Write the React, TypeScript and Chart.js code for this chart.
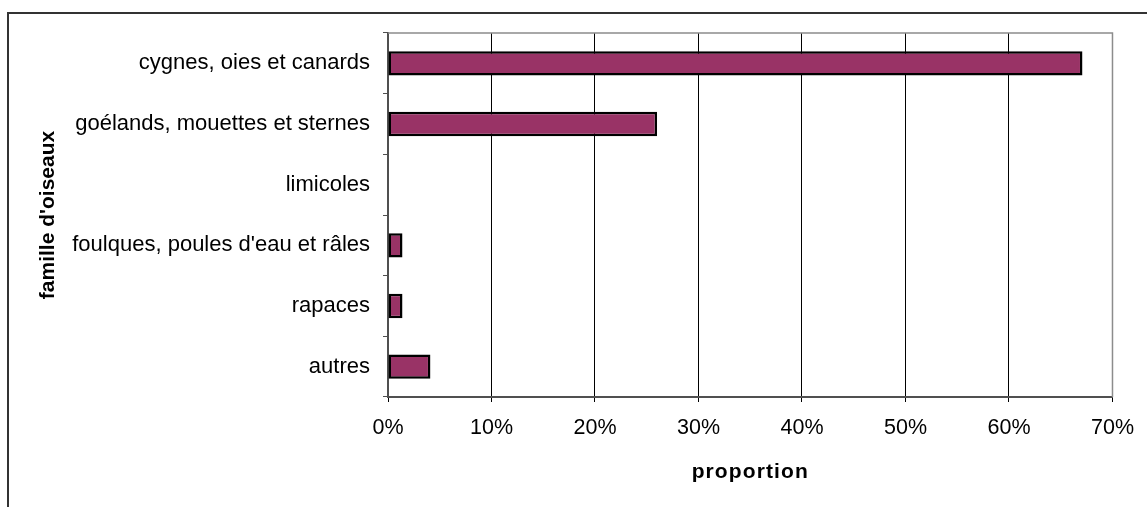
import React, { useEffect, useRef } from "react";
import { Chart, registerables } from "chart.js";

Chart.register(...registerables);

const categories = [
  "cygnes, oies et canards",
  "goélands, mouettes et sternes",
  "limicoles",
  "foulques, poules d'eau et râles",
  "rapaces",
  "autres",
];
const proportions = [67.1, 26.0, 0, 1.4, 1.4, 4.1];
const xTickMin = 0;
const xTickMax = 70;
const xTickStep = 10;
const xTitle = "proportion";
const yTitle = "famille d'oiseaux";

const W = 1147;
const H = 507;
const FONT = "'Liberation Sans', Arial, sans-serif";

const framePlugin = {
  id: "frame",
  beforeDraw(chart: any) {
    const ctx = chart.ctx;
    ctx.save();
    ctx.fillStyle = "#ffffff";
    ctx.fillRect(0, 0, chart.width, chart.height);
    ctx.restore();
    const xs = chart.scales.x;
    if (xs && !xs.__spaced) {
      const orig = xs.drawTitle;
      xs.drawTitle = function (...args: any[]) {
        const c = this.ctx;
        const prev = c.letterSpacing;
        c.letterSpacing = "1.1px";
        orig.apply(this, args);
        c.letterSpacing = prev || "0px";
      };
      xs.__spaced = true;
    }
  },
  afterDraw(chart: any) {
    const ctx = chart.ctx;
    const a = chart.chartArea;
    ctx.save();
    ctx.strokeStyle = "#8c8c8c";
    ctx.lineWidth = 1.5;
    ctx.beginPath();
    ctx.moveTo(a.left, a.top);
    ctx.lineTo(a.right, a.top);
    ctx.lineTo(a.right, a.bottom);
    ctx.stroke();
    ctx.fillStyle = "#333333";
    ctx.fillRect(7, 12, chart.width - 7, 2);
    ctx.fillRect(7, 12, 2, chart.height - 12);
    ctx.restore();
  },
};

export default function App() {
  const ref = useRef<HTMLCanvasElement | null>(null);

  useEffect(() => {
    if (!ref.current) return;
    const chart = new Chart(ref.current, {
      type: "bar",
      data: {
        labels: categories,
        datasets: [
          {
            data: proportions,
            backgroundColor: "#993366",
            borderColor: "#000000",
            borderWidth: 2.5,
            borderSkipped: false,
            inflateAmount: 0,
            categoryPercentage: 1,
            barPercentage: 0.4,
          },
        ],
      },
      options: {
        indexAxis: "y",
        responsive: false,
        animation: false,
        events: [],
        layout: { padding: { top: 33, right: 32, left: 0, bottom: 0 } },
        plugins: {
          legend: { display: false },
          tooltip: { enabled: false },
          title: { display: false },
        },
        scales: {
          x: {
            type: "linear",
            min: xTickMin,
            max: xTickMax,
            afterFit: (scale: any) => {
              scale.height = 110;
            },
            ticks: {
              stepSize: xTickStep,
              color: "#000000",
              padding: 13,
              font: { family: FONT, size: 21.5 },
              callback: (v: any) => v + "%",
              maxRotation: 0,
            },
            grid: {
              color: "#000000",
              lineWidth: 1,
              tickLength: 5,
              tickColor: "#000000",
            },
            border: { display: true, color: "#505050", width: 2 },
            title: {
              display: true,
              text: xTitle,
              color: "#000000",
              font: { family: FONT, size: 21, weight: "bold" },
              padding: { top: 0, bottom: 22.4 },
            },
          },
          y: {
            type: "category",
            afterFit: (scale: any) => {
              scale.width = 388;
            },
            ticks: {
              color: "#000000",
              padding: 13,
              font: { family: FONT, size: 22 },
            },
            grid: {
              display: true,
              drawOnChartArea: false,
              drawTicks: true,
              tickLength: 5,
              color: "#505050",
              offset: true,
            },
            border: { display: true, color: "#505050", width: 2 },
            title: {
              display: true,
              text: yTitle,
              color: "#000000",
              font: { family: FONT, size: 21, weight: "bold" },
              padding: { top: 35.4, bottom: 0 },
            },
          },
        },
      },
      plugins: [framePlugin],
    } as any);
    return () => chart.destroy();
  }, []);

  return (
    <div style={{ position: "absolute", left: 0, top: 0, width: W, height: H }}>
      <canvas ref={ref} width={W} height={H} style={{ display: "block" }} />
    </div>
  );
}
